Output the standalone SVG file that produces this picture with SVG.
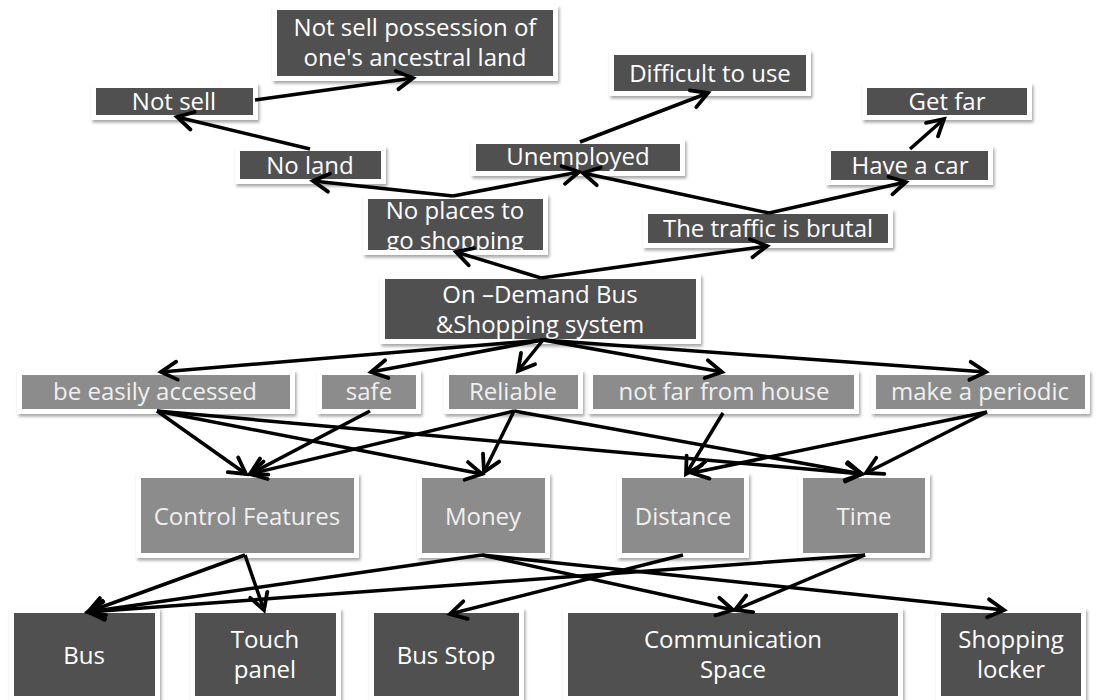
<svg xmlns="http://www.w3.org/2000/svg" width="1097" height="700" viewBox="0 0 1097 700">
  <style>
    .frame { fill: #ffffff; filter: url(#shadow); }
    .dark { fill: #505050; }
    .light { fill: #8c8c8c; }
    .lbl { font-family: "Open Sans", Lato, "Liberation Sans", sans-serif; font-size: 24px; fill: #ffffff; text-anchor: middle; }
    .lbl2 { font-family: "Open Sans", Lato, "Liberation Sans", sans-serif; font-size: 24px; fill: #f0f0f0; text-anchor: middle; }
    .edge { stroke: #000000; stroke-width: 3.5; fill: none; marker-end: url(#chev); }
  </style>
  <defs>
    <filter id="shadow" x="-10%" y="-10%" width="120%" height="130%">
      <feDropShadow dx="1.5" dy="2.5" stdDeviation="1.8" flood-color="#000000" flood-opacity="0.35"/>
    </filter>
    <marker id="chev" markerUnits="userSpaceOnUse" markerWidth="24" markerHeight="24" viewBox="0 0 24 24" refX="20" refY="12" orient="auto">
      <path d="M4,3 L20,12 L4,21" fill="none" stroke="#000000" stroke-width="3.8" stroke-linecap="round" stroke-linejoin="miter"/>
    </marker>
  </defs>

  <rect width="1097" height="700" fill="#ffffff"/>

  <!-- top tier -->
  <g id="n-possession">
    <rect class="frame" x="272" y="5" width="286" height="76"/>
    <rect class="dark" x="277" y="10" width="276" height="66"/>
    <text class="lbl" x="415" y="36">Not sell possession of</text>
    <text class="lbl" x="415" y="66">one's ancestral land</text>
  </g>
  <g id="n-difficult">
    <rect class="frame" x="609" y="50" width="202" height="46"/>
    <rect class="dark" x="614" y="55" width="192" height="36"/>
    <text class="lbl" x="710" y="82">Difficult to use</text>
  </g>
  <g id="n-getfar">
    <rect class="frame" x="862" y="83" width="170" height="37"/>
    <rect class="dark" x="867" y="88" width="160" height="27"/>
    <text class="lbl" x="947" y="110">Get far</text>
  </g>
  <g id="n-notsell">
    <rect class="frame" x="91" y="83" width="167" height="37"/>
    <rect class="dark" x="96" y="88" width="157" height="27"/>
    <text class="lbl" x="174" y="110">Not sell</text>
  </g>
  <g id="n-noland">
    <rect class="frame" x="235" y="146" width="151" height="38"/>
    <rect class="dark" x="240" y="151" width="141" height="28"/>
    <text class="lbl" x="310" y="174">No land</text>
  </g>
  <g id="n-unemployed">
    <rect class="frame" x="471" y="139" width="214" height="37"/>
    <rect class="dark" x="476" y="144" width="204" height="27"/>
    <text class="lbl" x="578" y="165">Unemployed</text>
  </g>
  <g id="n-havecar">
    <rect class="frame" x="826" y="146" width="167" height="39"/>
    <rect class="dark" x="831" y="151" width="157" height="29"/>
    <text class="lbl" x="910" y="174">Have a car</text>
  </g>
  <g id="n-noplaces">
    <rect class="frame" x="363" y="194" width="185" height="61"/>
    <rect class="dark" x="368" y="199" width="175" height="51"/>
    <text class="lbl" x="455" y="219">No places to</text>
    <text class="lbl" x="455" y="249">go shopping</text>
  </g>
  <g id="n-traffic">
    <rect class="frame" x="643" y="209" width="250" height="39"/>
    <rect class="dark" x="648" y="214" width="240" height="29"/>
    <text class="lbl" x="768" y="237">The traffic is brutal</text>
  </g>

  <!-- central system -->
  <g id="n-ondemand">
    <rect class="frame" x="380" y="274" width="321" height="70"/>
    <rect class="dark" x="385" y="279" width="311" height="60"/>
    <text class="lbl" x="540" y="303">On –Demand Bus</text>
    <text class="lbl" x="540" y="333">&amp;Shopping system</text>
  </g>

  <!-- requirements -->
  <g id="n-easily">
    <rect class="frame" x="17" y="370" width="278" height="44"/>
    <rect class="light" x="22" y="375" width="268" height="34"/>
    <text class="lbl2" x="155" y="400">be easily accessed</text>
  </g>
  <g id="n-safe">
    <rect class="frame" x="317" y="370" width="104" height="44"/>
    <rect class="light" x="322" y="375" width="94" height="34"/>
    <text class="lbl2" x="369" y="400">safe</text>
  </g>
  <g id="n-reliable">
    <rect class="frame" x="444" y="370" width="139" height="44"/>
    <rect class="light" x="449" y="375" width="129" height="34"/>
    <text class="lbl2" x="513" y="400">Reliable</text>
  </g>
  <g id="n-notfar">
    <rect class="frame" x="588" y="370" width="271" height="44"/>
    <rect class="light" x="593" y="375" width="261" height="34"/>
    <text class="lbl2" x="724" y="400">not far from house</text>
  </g>
  <g id="n-periodic">
    <rect class="frame" x="871" y="370" width="219" height="44"/>
    <rect class="light" x="876" y="375" width="209" height="34"/>
    <text class="lbl2" x="980" y="400">make a periodic</text>
  </g>

  <!-- factors -->
  <g id="n-control">
    <rect class="frame" x="136" y="473" width="223" height="85"/>
    <rect class="light" x="141" y="478" width="213" height="75"/>
    <text class="lbl2" x="247" y="525">Control Features</text>
  </g>
  <g id="n-money">
    <rect class="frame" x="417" y="473" width="133" height="85"/>
    <rect class="light" x="422" y="478" width="123" height="75"/>
    <text class="lbl2" x="483" y="525">Money</text>
  </g>
  <g id="n-distance">
    <rect class="frame" x="617" y="473" width="132" height="85"/>
    <rect class="light" x="622" y="478" width="122" height="75"/>
    <text class="lbl2" x="683" y="525">Distance</text>
  </g>
  <g id="n-time">
    <rect class="frame" x="798" y="473" width="132" height="85"/>
    <rect class="light" x="803" y="478" width="122" height="75"/>
    <text class="lbl2" x="864" y="525">Time</text>
  </g>

  <!-- components -->
  <g id="n-bus">
    <rect class="frame" x="9" y="608" width="151" height="93"/>
    <rect class="dark" x="14" y="613" width="141" height="83"/>
    <text class="lbl" x="84" y="664">Bus</text>
  </g>
  <g id="n-touch">
    <rect class="frame" x="190" y="608" width="151" height="93"/>
    <rect class="dark" x="195" y="613" width="141" height="83"/>
    <text class="lbl" x="265" y="648">Touch</text>
    <text class="lbl" x="265" y="678">panel</text>
  </g>
  <g id="n-busstop">
    <rect class="frame" x="369" y="608" width="155" height="93"/>
    <rect class="dark" x="374" y="613" width="145" height="83"/>
    <text class="lbl" x="446" y="664">Bus Stop</text>
  </g>
  <g id="n-comm">
    <rect class="frame" x="563" y="608" width="340" height="93"/>
    <rect class="dark" x="568" y="613" width="330" height="83"/>
    <text class="lbl" x="733" y="648">Communication</text>
    <text class="lbl" x="733" y="678">Space</text>
  </g>
  <g id="n-locker">
    <rect class="frame" x="936" y="608" width="150" height="93"/>
    <rect class="dark" x="941" y="613" width="140" height="83"/>
    <text class="lbl" x="1011" y="648">Shopping</text>
    <text class="lbl" x="1011" y="678">locker</text>
  </g>

  <!-- connectors, drawn above the boxes so the arrowheads stay visible -->
  <g id="connectors">
    <line class="edge" x1="255" y1="100" x2="413" y2="78"/>
    <line class="edge" x1="310" y1="149" x2="177" y2="117"/>
    <line class="edge" x1="453" y1="196" x2="313" y2="181"/>
    <line class="edge" x1="453" y1="196" x2="579" y2="172"/>
    <line class="edge" x1="580" y1="142" x2="708" y2="93"/>
    <line class="edge" x1="769" y1="213" x2="583" y2="173"/>
    <line class="edge" x1="769" y1="213" x2="906" y2="182"/>
    <line class="edge" x1="910" y1="149" x2="944" y2="119"/>
    <line class="edge" x1="541" y1="278" x2="456" y2="252"/>
    <line class="edge" x1="541" y1="278" x2="767" y2="246"/>
    <line class="edge" x1="543" y1="340" x2="161" y2="372"/>
    <line class="edge" x1="543" y1="340" x2="371" y2="372"/>
    <line class="edge" x1="543" y1="340" x2="518" y2="371"/>
    <line class="edge" x1="543" y1="340" x2="722" y2="372"/>
    <line class="edge" x1="543" y1="340" x2="986" y2="372"/>
    <line class="edge" x1="157" y1="411" x2="246" y2="474"/>
    <line class="edge" x1="157" y1="411" x2="482" y2="474"/>
    <line class="edge" x1="157" y1="411" x2="862" y2="474"/>
    <line class="edge" x1="370" y1="411" x2="250" y2="474"/>
    <line class="edge" x1="514" y1="411" x2="250" y2="474"/>
    <line class="edge" x1="514" y1="411" x2="484" y2="472"/>
    <line class="edge" x1="514" y1="411" x2="862" y2="474"/>
    <line class="edge" x1="723" y1="413" x2="686" y2="474"/>
    <line class="edge" x1="987" y1="412" x2="692" y2="473"/>
    <line class="edge" x1="987" y1="412" x2="866" y2="473"/>
    <line class="edge" x1="245" y1="555" x2="88" y2="612"/>
    <line class="edge" x1="245" y1="555" x2="264" y2="610"/>
    <line class="edge" x1="482" y1="555" x2="88" y2="612"/>
    <line class="edge" x1="482" y1="555" x2="733" y2="610"/>
    <line class="edge" x1="482" y1="555" x2="1004" y2="610"/>
    <line class="edge" x1="683" y1="555" x2="450" y2="614"/>
    <line class="edge" x1="865" y1="555" x2="88" y2="612"/>
    <line class="edge" x1="865" y1="555" x2="735" y2="610"/>
  </g>
</svg>
